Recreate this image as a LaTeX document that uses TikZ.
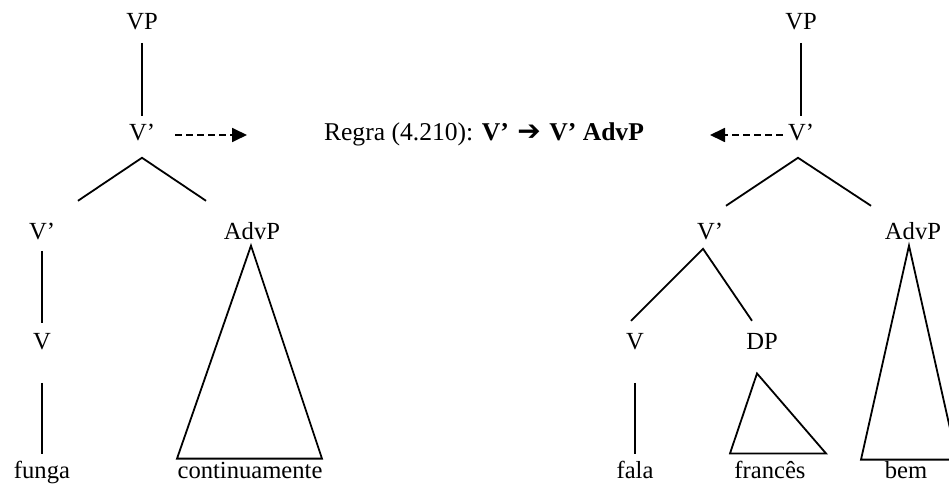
\documentclass[tikz,border=0pt,12pt]{standalone}
\usepackage{fontspec}
\setmainfont{Liberation Serif}
\newfontfamily\arrowfont{DejaVu Sans}
\usetikzlibrary{arrows.meta}

\begin{document}
\begin{tikzpicture}[
  x=0.5pt, y=-0.5pt,
  lab/.style={anchor=base, inner sep=0pt, font=\fontsize{12.3}{14}\selectfont},
  branch/.style={line width=0.9pt},
  dasharrow/.style={line width=0.9pt, dash pattern=on 3.2pt off 2.3pt,
                    -{Triangle[length=7.5pt, width=7pt]}}
]
\useasboundingbox (0,0) rectangle (949,497);
\clip (0,0) rectangle (949,497);

% left tree
\node[lab] (vpL)    at (142,30)  {VP};
\node[lab] (vbarL)  at (142,141) {V’};
\node[lab] (vbarLL) at (42,240)  {V’};
\node[lab] (advpL)  at (252,240) {AdvP};
\node[lab] (vL)     at (42,350)  {V};
\node[lab] (fungaL) at (42,479)  {funga};
\node[lab] (contL)  at (250,479) {continuamente};

\draw[branch] ([yshift=-6pt]vpL.south) -- ([yshift=4pt]vbarL.north);
\draw[branch] ([yshift=-8pt]vbarL.south) ++(-64,43) -- ++(64,-43) -- ++(64,43);
\draw[branch] ([yshift=-5pt]vbarLL.south) -- ([yshift=5pt]vL.north);
\draw[branch] ([yshift=-16pt]vL.south) -- ([yshift=3.5pt]fungaL.north);
\draw[branch] ([xshift=-0.5pt,yshift=-2.5pt]advpL.south) -- ++(-74,213) -- ++(145,0) -- cycle;

% rule in the middle
\node[lab, font=\fontsize{12.8}{14}\selectfont] (rule) at (484,141)
  {Regra (4.210): \textbf{V’\,\,{\arrowfont\fontsize{14}{14}\selectfont ➔}\,\,V’ AdvP}};
\coordinate (ruleL) at (247,135);
\coordinate (ruleR) at (710,135);

% right tree
\node[lab] (vpR)      at (801,30)  {VP};
\node[lab] (vbarR)    at (801,141) {V’};
\node[lab] (vbarRL)   at (710,240) {V’};
\node[lab] (advpR)    at (913,240) {AdvP};
\node[lab] (vR)       at (635,350) {V};
\node[lab] (dpR)      at (762,350) {DP};
\node[lab] (falaR)    at (635,479) {fala};
\node[lab] (francesR) at (770,479) {francês};
\node[lab] (bemR)     at (906,479) {bem};

\draw[branch] ([yshift=-6pt]vpR.south) -- ([yshift=4pt]vbarR.north);
\draw[branch] ([xshift=-1.5pt,yshift=-8pt]vbarR.south) ++(-72,48) -- ++(72,-48) -- ++(73,48);
\draw[branch] ([xshift=-3.5pt,yshift=-4pt]vbarRL.south) ++(-72,72) -- ++(72,-72) -- ++(49,72);
\draw[branch] ([yshift=-16pt]vR.south) -- ([yshift=3.5pt]falaR.north);
\draw[branch] ([xshift=-2.5pt,yshift=-11.5pt]dpR.south) -- ++(-27,80) -- ++(96,0) -- cycle;
\draw[branch] ([xshift=-2pt,yshift=-2.5pt]advpR.south) -- ++(-48,214) -- ++(96,0) -- cycle;

% dashed arrows towards the rule
\draw[dasharrow, shorten <=10pt] (vbarL.east |- ruleL) -- (ruleL);
\draw[dasharrow, shorten <=2.5pt] (vbarR.west |- ruleR) -- (ruleR);
\end{tikzpicture}
\end{document}
